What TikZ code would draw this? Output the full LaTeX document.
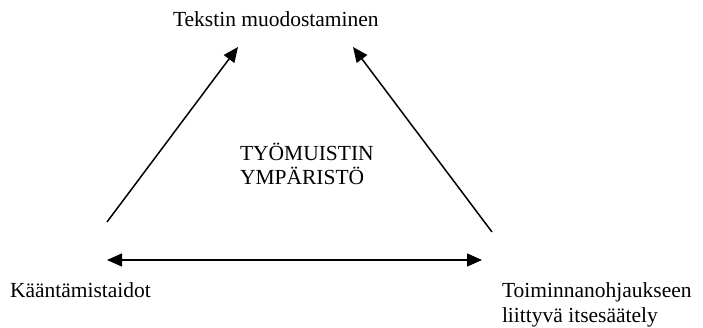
\documentclass[tikz,border=0pt]{standalone}
\usepackage{fontspec}
\setmainfont{Liberation Serif}
\usetikzlibrary{arrows.meta}
\begin{document}
\begin{tikzpicture}[x=1pt,y=1pt,
  lbl/.style={inner sep=0pt, outer sep=0pt, font=\fontsize{21.5}{24.5}\selectfont, align=left},
  conn/.style={line width=1.5pt, -{Triangle[length=15pt,width=13pt]}},
  conn2/.style={line width=1.5pt, {Triangle[length=15pt,width=13pt]}-{Triangle[length=15pt,width=13pt]}}]
\useasboundingbox (0,0) rectangle (703,328);
\node[lbl, anchor=base west] (top) at (173,301) {Tekstin muodostaminen};
\node[lbl, anchor=base west] (left) at (10,30) {Kääntämistaidot};
\node[lbl, anchor=north west] (right) at (502,45) {Toiminnanohjaukseen\\liittyvä itsesäätely};
\node[lbl, anchor=north west] (mid) at (240,185) {TYÖMUISTIN\\YMPÄRISTÖ};
\coordinate (l1) at (107,106);
\coordinate (l2) at (238,281);
\coordinate (r1) at (492,96);
\coordinate (r2) at (353,281);
\coordinate (h1) at (107,68);
\coordinate (h2) at (482,68);
\draw[conn] (l1) -- (l2);
\draw[conn] (r1) -- (r2);
\draw[conn2] (h1) -- (h2);
\end{tikzpicture}
\end{document}
